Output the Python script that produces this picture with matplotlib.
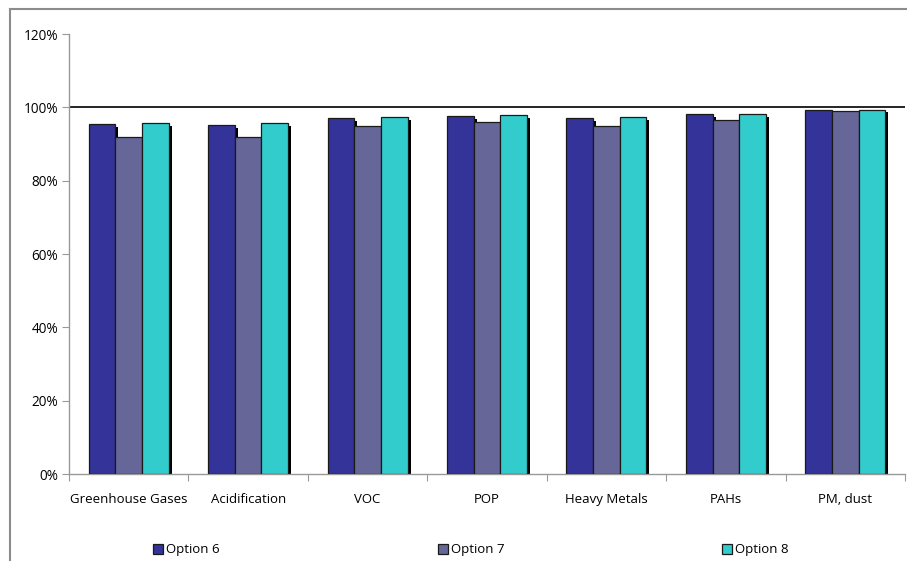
import numpy as np
import matplotlib.pyplot as plt
from matplotlib.lines import Line2D

plt.rcParams['font.family'] = ['Open Sans', 'DejaVu Sans']

categories = ['Greenhouse Gases', 'Acidification', 'VOC', 'POP',
              'Heavy Metals', 'PAHs', 'PM, dust']
option6 = [95.4, 95.3, 97.2, 97.7, 97.0, 98.1, 99.4]
option7 = [91.8, 91.8, 95.0, 96.1, 94.8, 96.6, 98.9]
option8 = [95.7, 95.6, 97.4, 97.9, 97.3, 98.3, 99.4]
series_names = ['Option 6', 'Option 7', 'Option 8']
colors = ['#333399', '#666699', '#33CCCC']
y_ticks = [0, 20, 40, 60, 80, 100, 120]

fig = plt.figure(figsize=(9.07, 5.61), dpi=100)
ax = fig.add_axes([69 / 907, 87 / 561, 836 / 907, 440 / 561])

x = np.arange(len(categories)) + 0.5
width = 0.223
series = [option6, option7, option8]

# shadows first, behind everything
for i, vals in enumerate(series):
    pos = x + (i - 1) * width
    ax.bar(pos + 0.025, np.array(vals) - 0.8, width, color='black', zorder=2)

bars = []
for i, vals in enumerate(series):
    pos = x + (i - 1) * width
    b = ax.bar(pos, vals, width, color=colors[i], edgecolor='#1a1a1a',
               linewidth=0.9, zorder=3, label=series_names[i])
    bars.append(b)

ax.axhline(100, color='black', linewidth=1.2, zorder=1)

ax.set_xlim(0, len(categories))
ax.set_ylim(0, 120)
ax.set_yticks(y_ticks)
ax.set_yticklabels([f'{v}%' for v in y_ticks], fontsize=9.8)
ax.set_xticks(np.arange(len(categories) + 1))
ax.set_xticklabels([])
ax.set_xticks(x, minor=True)
ax.set_xticklabels(categories, minor=True, fontsize=9.5)
ax.tick_params(axis='x', which='minor', length=0, pad=14)
ax.tick_params(axis='x', which='major', length=5, color='#999999', direction='out')
ax.tick_params(axis='y', length=5, color='#999999', direction='out', pad=3)

for s in ['top', 'right']:
    ax.spines[s].set_visible(False)
for s in ['left', 'bottom']:
    ax.spines[s].set_color('#999999')
    ax.spines[s].set_linewidth(1.0)

# outer chart frame
fig.add_artist(Line2D([10 / 907, 10 / 907], [0, 552 / 561], color='#8c8c8c', linewidth=1.5))
fig.add_artist(Line2D([10 / 907, 1], [552 / 561, 552 / 561], color='#8c8c8c', linewidth=1.5))

fig.legend(handles=bars, labels=series_names, loc='center', ncol=3,
           bbox_to_anchor=(471 / 907, 11 / 561), frameon=False, fontsize=9.5,
           handlelength=0.75, handleheight=0.75, handletextpad=0.25,
           columnspacing=16.5)

fig.savefig('out.png', dpi=100)
